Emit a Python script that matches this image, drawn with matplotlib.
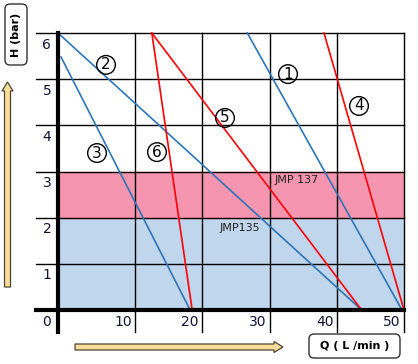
import matplotlib
matplotlib.use('Agg')
import matplotlib.pyplot as plt
from matplotlib.patches import FancyArrow, FancyBboxPatch

# courbes H(Q) des pompes, (Q, H) aux deux extremites
courbes = {
    '1': ([26.7, 49.7], [6.0, 0.0], '#2E75B6'),
    '2': ([-1.45, 43.7], [6.0, 0.0], '#2E75B6'),
    '3': ([-1.0, 18.2], [5.48, 0.0], '#2E75B6'),
    '4': ([38.1, 50.0], [6.0, 0.0], '#FF0000'),
    '5': ([12.5, 43.7], [6.0, 0.0], '#FF0000'),
    '6': ([12.5, 18.5], [6.0, 0.0], '#FF0000'),
}
etiquettes = {'1': (32.75, 5.11), '2': (5.69, 5.31), '3': (4.35, 3.40),
              '4': (43.31, 4.42), '5': (23.38, 4.16), '6': (13.27, 3.42)}
x_ticks = [10, 20, 30, 40, 50]
y_ticks = [0, 1, 2, 3, 4, 5, 6]
zones = [(0, 2, '#BFD6EC', 'JMP135', (25.6, 1.78)),
         (2, 3, '#F595AF', 'JMP 137', (34.1, 2.82))]

fig = plt.figure(figsize=(4.18, 3.64), dpi=100)

# calque en pixels pour les fleches et les cadres
bg = fig.add_axes([0, 0, 1, 1])
bg.set_xlim(0, 418)
bg.set_ylim(364, 0)
bg.axis('off')
fleche = dict(fc='#F9DE9A', ec='#4d4433', lw=0.9, length_includes_head=True)
bg.add_patch(FancyArrow(7.5, 287, 0, -205, width=6, head_width=11,
                        head_length=9, **fleche))
bg.add_patch(FancyArrow(75, 347, 208, 0, width=6, head_width=11,
                        head_length=9, **fleche))
bg.add_patch(FancyBboxPatch((5, 4), 22, 61, boxstyle='round,pad=0,rounding_size=5',
                            fc='white', ec='#333333', lw=1))
bg.add_patch(FancyBboxPatch((309, 334), 91, 24, boxstyle='round,pad=0,rounding_size=5',
                            fc='white', ec='#333333', lw=1))
bg.text(16, 34.5, 'H (bar)', rotation=90, ha='center', va='center',
        fontsize=8, fontweight='bold')
bg.text(354.5, 346, r'Q ( L /min )', ha='center', va='center',
        fontsize=8, fontweight='bold')

ax = fig.add_axes([58/418, 1-310/364, 346/418, 277/364])
ax.set_xlim(-1.45, 50)
ax.set_ylim(0, 6)
for s in ax.spines.values():
    s.set_visible(False)
ax.set_xticks([])
ax.set_yticks([])

for y0, y1, c, nom, pos in zones:
    ax.axhspan(y0, y1, color=c, zorder=0)
    ax.text(pos[0], pos[1], nom, ha='center', va='center', fontsize=8,
            color='#222222', zorder=3)

# quadrillage
for y in y_ticks[1:]:
    ax.plot([-4.72, 50], [y, y], color='black', lw=1, clip_on=False, zorder=1)
for x in x_ticks:
    ax.plot([x, x], [-0.48, 6], color='black', lw=1, clip_on=False, zorder=1)
ax.plot([-4.72, 50], [0, 0], color='black', lw=3, clip_on=False, zorder=4)
ax.plot([-1.45, -1.45], [-0.48, 6], color='black', lw=3, clip_on=False, zorder=4)

for k, (qs, hs, c) in courbes.items():
    ax.plot(qs, hs, color=c, lw=1.2, zorder=2, clip_on=False)
    ex, ey = etiquettes[k]
    ax.text(ex, ey, k, ha='center', va='center', fontsize=11, zorder=5,
            bbox=dict(boxstyle='circle,pad=0.12', fc='none', ec='black', lw=1))

for y in y_ticks:
    ax.text(-3.1, y - 0.25, str(y), ha='center', va='center', fontsize=10,
            color='#111133', clip_on=False)
for x in x_ticks:
    ax.text(x - 0.5, -0.26, str(x), ha='right', va='center', fontsize=10,
            color='#111133', clip_on=False)

fig.savefig('out.png', dpi=100)
